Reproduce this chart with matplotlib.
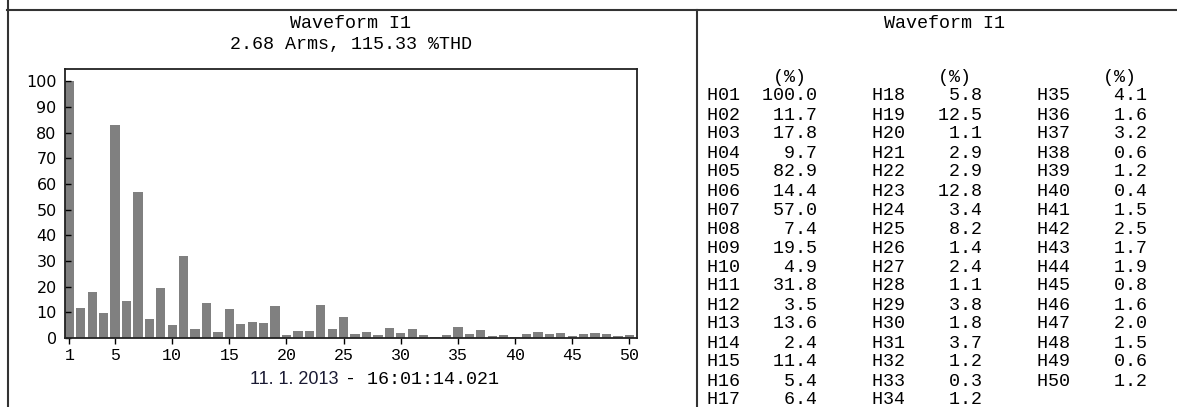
import matplotlib
matplotlib.use('Agg')
import matplotlib.pyplot as plt
from matplotlib.lines import Line2D

# harmonic content of I1, % of fundamental
harmonics = list(range(1, 51))
values = [100.0, 11.7, 17.8, 9.7, 82.9, 14.4, 57.0, 7.4, 19.5, 4.9,
          31.8, 3.5, 13.6, 2.4, 11.4, 5.4, 6.4, 5.8, 12.5, 1.1,
          2.9, 2.9, 12.8, 3.4, 8.2, 1.4, 2.4, 1.1, 3.8, 1.8,
          3.7, 1.2, 0.3, 1.2, 4.1, 1.6, 3.2, 0.6, 1.2, 0.4,
          1.5, 2.5, 1.7, 1.9, 0.8, 1.6, 2.0, 1.5, 0.6, 1.2]
xticks = [1, 5, 10, 15, 20, 25, 30, 35, 40, 45, 50]
yticks = [0, 10, 20, 30, 40, 50, 60, 70, 80, 90, 100]

title = 'Waveform I1'
subtitle = '2.68 Arms, 115.33 %THD'
date_part = '11. 1. 2013'
time_part = '- 16:01:14.021'

W, H = 1177, 407
MONO = 'Liberation Mono'
SANS = 'DejaVu Sans'


def fx(px):
    return px / W


def fy(py):
    return 1 - py / H


fig = plt.figure(figsize=(W / 100, H / 100), dpi=100)

# panel borders
for xs, ys in [((7, W), (10, 10)), ((7.5, 7.5), (0, H)), ((697, 697), (10, H))]:
    fig.add_artist(Line2D([fx(x) for x in xs], [fy(y) for y in ys],
                          color='#333333', lw=1.5))

# left panel: bar chart
ax = fig.add_axes([fx(65), fy(338), fx(637 - 65), (338 - 69) / H])
ax.bar(harmonics, values, width=0.82, color='#808080', edgecolor='none')
ax.set_xlim(0.62, 50.67)
ax.set_ylim(0, 104.8)
ax.set_xticks(xticks)
ax.set_yticks(yticks)
ax.tick_params(axis='x', direction='out', length=4, width=1, pad=3, labelsize=12)
ax.tick_params(axis='y', direction='in', length=4, width=1, pad=6, labelsize=11.5)
for lab in ax.get_xticklabels():
    lab.set_fontfamily(MONO)
for lab in ax.get_yticklabels():
    lab.set_fontfamily(SANS)
for sp in ax.spines.values():
    sp.set_linewidth(1.3)
    sp.set_color('#222222')

fig.text(fx(351), fy(23), title, family=MONO, fontsize=13.2, ha='center', va='center')
fig.text(fx(351), fy(45), subtitle, family=MONO, fontsize=13.2, ha='center', va='center')
fig.text(fx(338), fy(380), date_part, family='Liberation Sans', fontsize=13,
         ha='right', va='center', color='#1a1a33')
fig.text(fx(345), fy(380), time_part, family=MONO, fontsize=13.2, ha='left', va='center')

# right panel: table of harmonic values
fig.text(fx(944), fy(23), title, family=MONO, fontsize=13.2, ha='center', va='center')
header = ' ' * 6 + '(%)' + ' ' * 12 + '(%)' + ' ' * 12 + '(%)'
fig.text(fx(707), fy(77), header, family=MONO, fontsize=13.2, ha='left', va='center')
for r in range(17):
    cells = []
    for c in range(3):
        i = c * 17 + r
        if i < len(values):
            cells.append('H%02d%7.1f' % (harmonics[i], values[i]))
    fig.text(fx(707), fy(96 + 19 * r), '     '.join(cells), family=MONO,
             fontsize=13.2, ha='left', va='center')

fig.savefig('out.png', dpi=100)
